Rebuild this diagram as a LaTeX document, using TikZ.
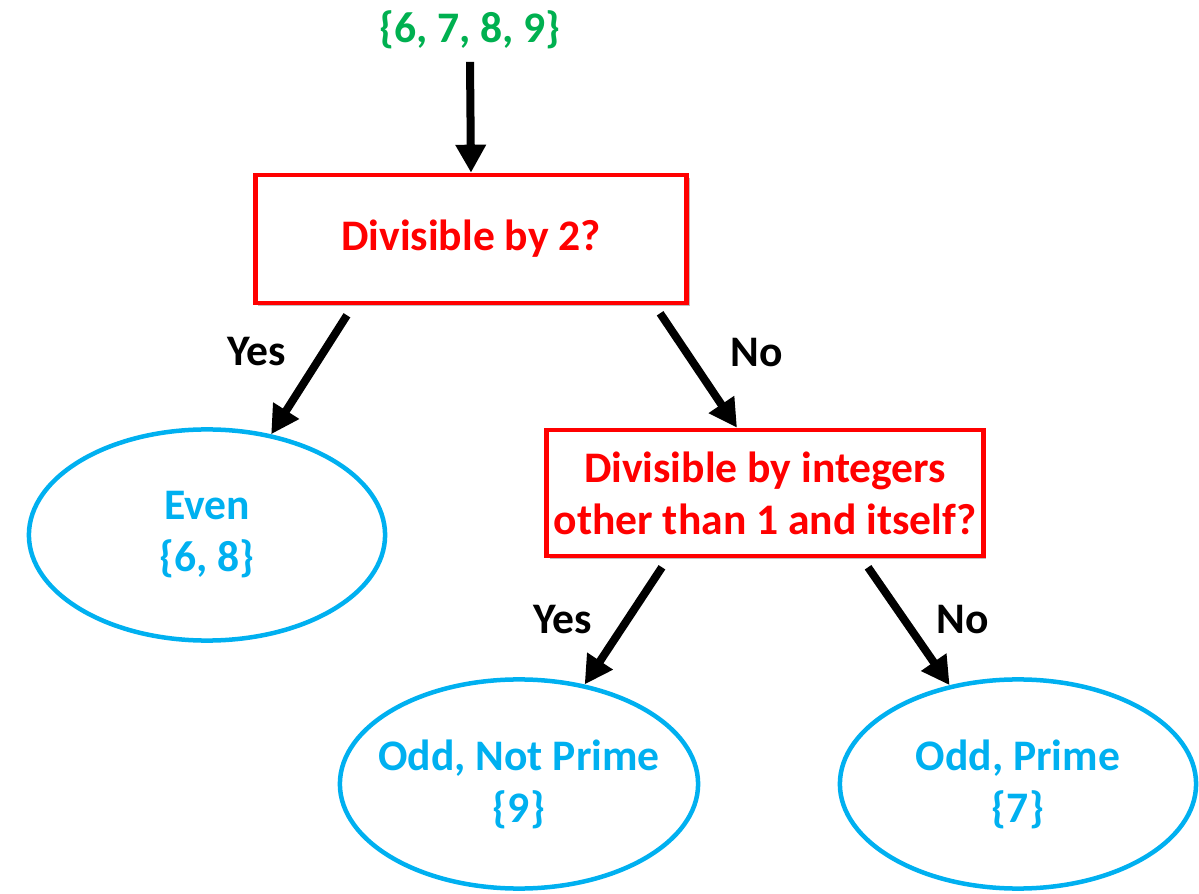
\documentclass[tikz,border=0pt]{standalone}
\usepackage{fontspec}
\setmainfont{Carlito}
\usepackage{xcolor}
\usepackage{tikz}
\usetikzlibrary{arrows.meta,calc,positioning,shapes.geometric,shadows}
\definecolor{treered}{HTML}{FF0000}
\definecolor{treeblue}{HTML}{00B0F0}
\definecolor{treegreen}{HTML}{00B050}
\definecolor{treeblack}{HTML}{000000}
\tikzset{
  treefont/.style={font=\fontsize{12.4}{14.8}\selectfont\bfseries},
  flowarrow/.style={treeblack, line width=0.08cm, -{Triangle[length=0.28cm,width=0.29cm]}},
  setnode/.style={treefont, text=treegreen, inner sep=0pt},
  questionnode/.style={treefont, draw=treered, text=treered, fill=white, line width=0.045cm,
    align=center, inner sep=2pt,
    drop shadow={shadow xshift=0.03cm, shadow yshift=-0.03cm, opacity=0.25, fill=black}},
  leafnode/.style={treefont, ellipse, draw=treeblue, text=treeblue, line width=0.045cm,
    align=center, inner sep=-0.3cm},
  answerlabel/.style={treefont, text=treeblack, inner sep=1pt}
}
\begin{document}
\begin{tikzpicture}[x=0.01cm, y=-0.01cm]
  \useasboundingbox (0,0) rectangle (1199,894);
  \node[setnode] (numbers) at (470,30) {\{6, 7, 8, 9\}};
  \node[questionnode, minimum width=4.31cm, minimum height=1.28cm] (even test) at (471,239) {Divisible by 2?};
  \node[questionnode, minimum width=4.30cm, minimum height=1.26cm] (prime test) at (765,493)
    {Divisible by integers\\other than 1 and itself?};
  \node[leafnode, minimum width=3.56cm, minimum height=2.11cm] (even) at (207,535) {Even\\\{6, 8\}};
  \node[leafnode, minimum width=3.58cm, minimum height=2.09cm] (not prime) at (519,784) {Odd, Not Prime\\\{9\}};
  \node[leafnode, minimum width=3.56cm, minimum height=2.09cm] (prime) at (1018,784) {Odd, Prime\\\{7\}};
  \draw[flowarrow] ([yshift=-0.12cm]numbers.south) -- (even test.north);
  \draw[flowarrow] ([xshift=-1.24cm,yshift=-0.1cm]even test.south) -- (even);
  \draw[flowarrow] ([xshift=1.89cm,yshift=-0.08cm]even test.south) -- ([xshift=-0.28cm]prime test.north);
  \draw[flowarrow] ([xshift=-1.03cm,yshift=-0.09cm]prime test.south) -- (not prime);
  \draw[flowarrow] ([xshift=1.03cm,yshift=-0.09cm]prime test.south) -- (prime);
  \node[answerlabel] (yes one) at (257,352) {Yes};
  \node[answerlabel] (no one) at (757,353) {No};
  \node[answerlabel] (yes two) at (563,620) {Yes};
  \node[answerlabel] (no two) at (963,620) {No};
\end{tikzpicture}
\end{document}
